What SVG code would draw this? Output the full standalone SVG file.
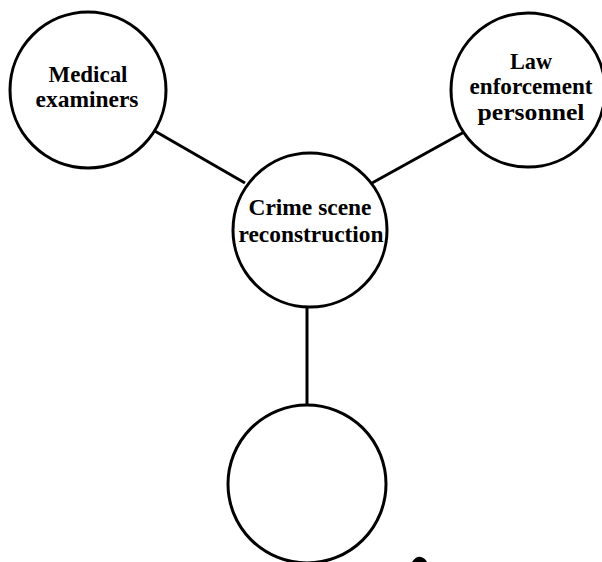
<svg xmlns="http://www.w3.org/2000/svg" width="602" height="562" viewBox="0 0 602 562">
<style>
.node circle { fill: #ffffff; stroke: #000000; stroke-width: 3; }
.edges line { stroke: #000000; stroke-width: 3; }
text { font-family: "Liberation Serif", "Times New Roman", serif; font-weight: bold; font-size: 23px; fill: #000000; text-anchor: middle; }
</style>
<rect x="0" y="0" width="602" height="562" fill="#ffffff"/>
<g id="edges" class="edges">
  <line x1="153" y1="130" x2="245" y2="183"/>
  <line x1="372" y1="183" x2="466" y2="131"/>
  <line x1="307" y1="307" x2="307" y2="405"/>
</g>
<g id="node-medical" class="node">
  <circle cx="88" cy="90" r="78"/>
  <text x="88" y="82" textLength="79" lengthAdjust="spacingAndGlyphs">Medical</text>
  <text x="87" y="107" textLength="103" lengthAdjust="spacingAndGlyphs">examiners</text>
</g>
<g id="node-law" class="node">
  <circle cx="528" cy="90" r="77"/>
  <text x="531" y="69" textLength="42" lengthAdjust="spacingAndGlyphs">Law</text>
  <text x="531" y="94" textLength="123" lengthAdjust="spacingAndGlyphs">enforcement</text>
  <text x="531" y="120" textLength="107" lengthAdjust="spacingAndGlyphs">personnel</text>
</g>
<g id="node-crime" class="node">
  <circle cx="310" cy="230" r="77"/>
  <text x="310" y="215" textLength="123" lengthAdjust="spacingAndGlyphs">Crime scene</text>
  <text x="311" y="242" textLength="145" lengthAdjust="spacingAndGlyphs">reconstruction</text>
</g>
<g id="node-bottom" class="node">
  <circle cx="307" cy="484" r="79"/>
</g>
<path d="M412 562 Q416 556 421 557 Q425 558 427 562 Z" fill="#000000"/>
</svg>
